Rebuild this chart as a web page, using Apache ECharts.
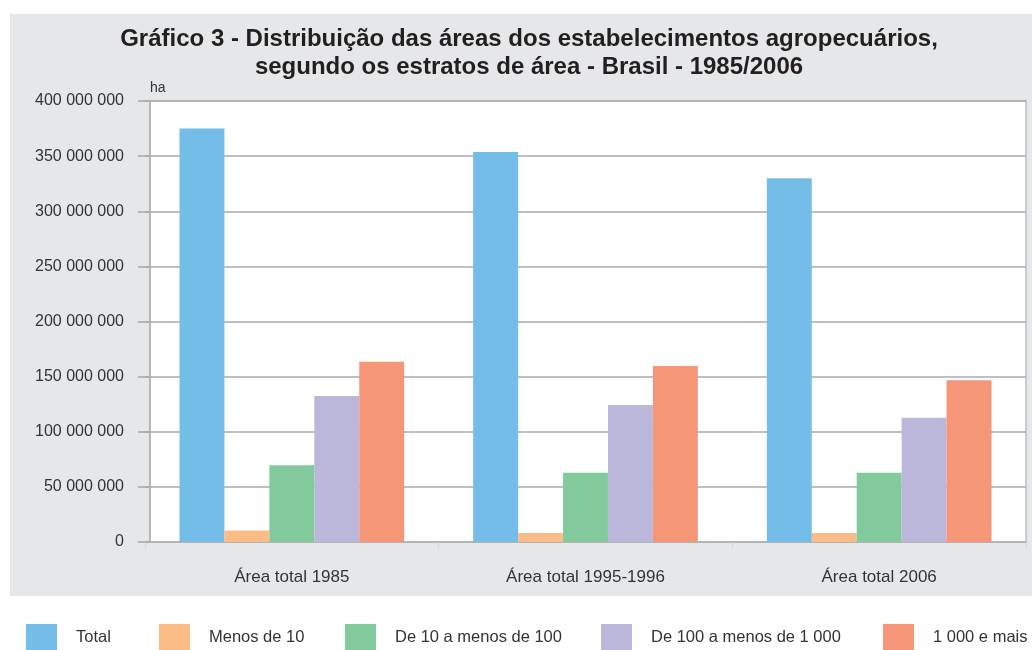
<!DOCTYPE html>
<html>
<head>
<meta charset="utf-8">
<script src="https://cdn.jsdelivr.net/npm/echarts@6/dist/echarts.min.js"></script>
<style>
html, body { margin: 0; padding: 0; background: #fff; }
#main { width: 1032px; height: 650px; }
</style>
</head>
<body>
<div id="main"></div>
<script>
// dados (ha)
var categories = ['Área total 1985', 'Área total 1995-1996', 'Área total 2006'];
var seriesNames = ['Total', 'Menos de 10', 'De 10 a menos de 100', 'De 100 a menos de 1 000', '1 000 e mais'];
var total = [375000000, 353800000, 330000000];
var menos10 = [10500000, 8200000, 8200000];
var de10a100 = [69700000, 62700000, 62800000];
var de100a1000 = [132400000, 124300000, 112700000];
var mais1000 = [163500000, 159600000, 146800000];
var yTicks = [0, 50000000, 100000000, 150000000, 200000000, 250000000, 300000000, 350000000, 400000000];

var colors = ['#74bde8', '#fbbc86', '#82ca9c', '#bbb7da', '#f69679'];
var values = [total, menos10, de10a100, de100a1000, mais1000];
var legendLeft = [26, 159, 345, 601, 883];
var FONT = '"Liberation Sans", Arial, sans-serif';

var fmt = function(v) {
    return String(v).replace(/\B(?=(\d{3})+(?!\d))/g, ' ');
};

var series = [];
var legends = [];
for (var i = 0; i < seriesNames.length; i++) {
    series.push({
        name: seriesNames[i],
        type: 'bar',
        data: values[i],
        itemStyle: { color: colors[i] },
        barGap: '0%',
        barCategoryGap: '23.5%',
        emphasis: { disabled: true }
    });
    legends.push({
        data: [seriesNames[i]],
        left: legendLeft[i],
        top: 624,
        padding: 0,
        icon: 'rect',
        itemWidth: 31,
        itemHeight: 27,
        selectedMode: false,
        textStyle: { fontSize: 16.5, color: '#333', fontFamily: FONT, padding: [0, 0, 0, 14] }
    });
}

var myChart = echarts.init(document.getElementById('main'));
var option = {
    animation: false,
    backgroundColor: '#fff',
    textStyle: { fontFamily: FONT },
    graphic: [{
        type: 'rect',
        z: -10,
        shape: { x: 10, y: 14, width: 1022, height: 582 },
        style: { fill: '#e6e7e8' }
    }, {
        // fundo branco da área do gráfico
        type: 'rect',
        z: -9,
        shape: { x: 150, y: 101, width: 876, height: 441 },
        style: { fill: '#fff', stroke: '#bdbdbd', lineWidth: 1.5 }
    }],
    title: {
        text: 'Gráfico 3 - Distribuição das áreas dos estabelecimentos agropecuários,\nsegundo os estratos de área - Brasil - 1985/2006',
        left: 529,
        top: 25,
        padding: 0,
        textAlign: 'center',
        textStyle: { fontSize: 24, fontWeight: 'bold', color: '#231f20', lineHeight: 28, fontFamily: FONT }
    },
    legend: legends,
    grid: {
        left: 145, right: 6, top: 101, bottom: 108,
        show: false,
        containLabel: false
    },
    xAxis: {
        type: 'category',
        data: categories,
        axisLine: { show: true, lineStyle: { color: '#b5b5b5', width: 1.5 } },
        axisTick: { show: true, length: 6, lineStyle: { color: '#d5d5d5' } },
        axisLabel: { fontSize: 17, color: '#333', margin: 27, fontFamily: FONT },
        splitLine: { show: false }
    },
    yAxis: {
        type: 'value',
        min: 0,
        max: 400000000,
        interval: 50000000,
        offset: -5,
        name: 'ha',
        nameLocation: 'end',
        nameGap: 6,
        nameTextStyle: { fontSize: 14, color: '#333', align: 'left', fontFamily: FONT },
        axisLine: { show: true, lineStyle: { color: '#b0b0b0', width: 1.5 } },
        axisTick: { show: true, length: 12, inside: false, lineStyle: { color: '#a8a8a8', width: 1.5 } },
        axisLabel: {
            fontSize: 16, color: '#333', margin: 26, fontFamily: FONT,
            formatter: function(v) { return yTicks.indexOf(v) >= 0 ? fmt(v) : ''; }
        },
        splitLine: { show: true, lineStyle: { color: '#aaaaaa', width: 1.5 } }
    },
    series: series
};
myChart.setOption(option);
</script>
</body>
</html>
